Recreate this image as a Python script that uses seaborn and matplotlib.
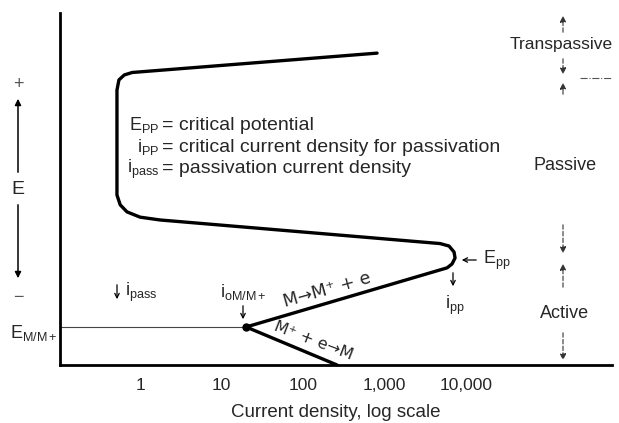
import matplotlib
matplotlib.use("Agg")
import matplotlib.pyplot as plt
import seaborn as sns

# Polarization curve (current density vs potential)
current_density = [261, 20, 5850, 6730, 7330, 7120, 6180, 4800, 1.76, 1.0, 0.69,
                   0.57, 0.52, 0.52, 0.55, 0.64, 0.80, 809]
potential = [0.0, 10.8, 27.6, 28.7, 30.4, 32.1, 33.8, 34.5, 41.2, 42.0, 43.5,
             45.5, 48.3, 78.1, 81.0, 82.4, 83.1, 88.6]

# exchange current density / equilibrium potential
i0 = 20
E_eq = 10.8

tick_values = [1, 10, 100, 1000, 10000]
tick_labels = ["1", "10", "100", "1,000", "10,000"]

sns.set_style("white")
plt.rcParams["font.family"] = ["Liberation Sans", "DejaVu Sans"]
plt.rcParams["mathtext.fontset"] = "custom"
plt.rcParams["mathtext.rm"] = "Liberation Sans"
plt.rcParams["mathtext.it"] = "Liberation Sans:italic"
plt.rcParams["mathtext.default"] = "rm"

W, H = 619, 423
fig = plt.figure(figsize=(W / 100, H / 100), dpi=100)
ax = fig.add_axes([60 / W, 58 / H, 552 / W, 352 / H])


def P(x, y):
    # pixel position -> figure fraction
    return (x / W, 1 - y / H)


sns.lineplot(x=current_density, y=potential, sort=False, estimator=None,
             color="black", lw=2.4, ax=ax)
ax.lines[-1].set_solid_joinstyle("round")
ax.set_xscale("log")
ax.set_xlim(0.104, 618000)
ax.set_ylim(0, 100)

ax.hlines(E_eq, 0.104, i0, color="#444444", lw=0.8)
ax.plot([i0], [E_eq], "o", color="black", ms=5)

ax.set_xticks(tick_values)
ax.set_xticklabels(tick_labels, fontsize=12.5)
ax.minorticks_off()
ax.tick_params(axis="x", direction="in", length=13, width=0.8, color="#777777", pad=9)
ax.set_yticks([])
ax.set_xlabel("Current density, log scale", fontsize=13.5, labelpad=8)
ax.set_ylabel("")
for s in ["top", "right"]:
    ax.spines[s].set_visible(False)
for s in ["left", "bottom"]:
    ax.spines[s].set_linewidth(2)
    ax.spines[s].set_color("black")

fs = 13
T = dict(fontsize=fs, transform=fig.transFigure)

# definitions block
rows = [("E$_{\\mathrm{PP}}$", "= critical potential", 130),
        ("i$_{\\mathrm{PP}}$", "= critical current density for passivation", 152),
        ("i$_{\\mathrm{pass}}$", "= passivation current density", 173)]
for sym, desc, yb in rows:
    fig.text(*P(159, yb), sym, ha="right", va="baseline", fontsize=13, transform=fig.transFigure)
    fig.text(*P(162, yb), desc, ha="left", va="baseline", fontsize=14, transform=fig.transFigure)

# left E axis arrow
arr = dict(arrowstyle="-|>", lw=1.1, color="black", mutation_scale=9)
ax.annotate("", xy=P(18, 96), xytext=P(18, 175), xycoords="figure fraction",
            textcoords="figure fraction", arrowprops=arr)
ax.annotate("", xy=P(18, 281), xytext=P(18, 202), xycoords="figure fraction",
            textcoords="figure fraction", arrowprops=arr)
fig.text(*P(18, 189), "E", ha="center", va="center", fontsize=14, transform=fig.transFigure)
fig.text(*P(18, 84), "+", ha="center", va="center", fontsize=13, color="#555555",
         transform=fig.transFigure)
fig.text(*P(18, 297), "\u2212", ha="center", va="center", fontsize=13, color="#555555",
         transform=fig.transFigure)

fig.text(*P(10, 333), "E$_{\\mathrm{M/M+}}$", ha="left", va="center", **T)

# labels near curve
small = dict(arrowstyle="->", lw=0.9, color="black", mutation_scale=8)


def arrow(x0, y0, x1, y1):
    ax.annotate("", xy=P(x1, y1), xytext=P(x0, y0), xycoords="figure fraction",
                textcoords="figure fraction", arrowprops=small)


arrow(117, 282, 117, 302)
fig.text(*P(125, 292), "i$_{\\mathrm{pass}}$", ha="left", va="center", **T)
fig.text(*P(243, 292), "i$_{\\mathrm{oM/M+}}$", ha="center", va="center", **T)
arrow(243, 303, 243, 322)
arrow(479, 260, 459, 260)
fig.text(*P(483, 260), "E$_{\\mathrm{pp}}$", ha="left", va="center", **T)
arrow(453, 270, 453, 289)
fig.text(*P(455, 305), "i$_{\\mathrm{pp}}$", ha="center", va="center", **T)

fig.text(*P(327, 290), "M\u2192M\u207a + e", ha="center", va="center",
         rotation=15.8, rotation_mode="anchor", fontsize=12.5, family=["DejaVu Sans"],
         transform=fig.transFigure)
fig.text(*P(313, 341), "M\u207a + e\u2192M", ha="center", va="center",
         rotation=-21, rotation_mode="anchor", fontsize=11.5, family=["DejaVu Sans"],
         transform=fig.transFigure)

# region markers on the right
reg = dict(arrowstyle="-|>", lw=0.8, color="#333333", ls=(0, (4, 2)), mutation_scale=9)


def vseg(y0, y1):
    ax.annotate("", xy=P(563, y1), xytext=P(563, y0), xycoords="figure fraction",
                textcoords="figure fraction", arrowprops=reg)


vseg(35, 13)
vseg(56, 77)
vseg(97, 80)
vseg(222, 256)
vseg(290, 261)
vseg(330, 363)
fig.lines.append(plt.Line2D([580 / W, 612 / W], [1 - 78 / H] * 2, transform=fig.transFigure,
                            color="#555555", lw=0.8, ls="-."))
fig.text(*P(561, 45), "Transpassive", ha="center", va="center", fontsize=12.5,
         transform=fig.transFigure)
fig.text(*P(565, 166), "Passive", ha="center", va="center", **T)
fig.text(*P(565, 313), "Active", ha="center", va="center", **T)

fig.savefig("out.png", dpi=100)
